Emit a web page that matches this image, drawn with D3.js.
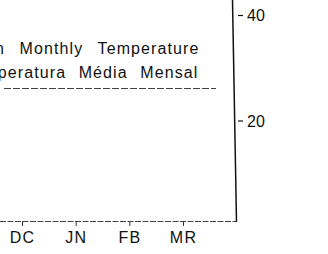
<!DOCTYPE html>
<html><head><meta charset="utf-8">
<script src="https://cdn.jsdelivr.net/npm/d3@7"></script>
<style>body{margin:0;background:#fff;}svg{display:block;}text{font-family:"Liberation Sans",Arial,sans-serif;fill:#111;}</style>
</head><body>
<script>
const months = ["DC","JN","FB","MR"];
const yTicks = [20, 40];
const titleEn = "Mean Monthly Temperature";
const titlePt = "Temperatura Média Mensal";

const W = 328, H = 254;
const svg = d3.select("body").append("svg").attr("width", W).attr("height", H);

const x = d3.scalePoint().domain(months).range([22, 183]);
const y = d3.scaleLinear().domain([0, 40]).range([226, 15]);
const axisX = 236, baseY = 221;

// right y axis
const gy = svg.append("g").attr("transform", `translate(${axisX},0)`)
  .call(d3.axisRight(y).tickValues(yTicks).tickSize(7).tickPadding(4));
gy.select(".domain").remove();
gy.selectAll(".tick line").attr("x1", 2).attr("stroke", "#111").attr("stroke-width", 1.2);
gy.selectAll(".tick text").attr("font-size", 16).attr("dy", "0.36em");
svg.append("line").attr("x1", 232.5).attr("y1", 0).attr("x2", 236.5).attr("y2", baseY + 1)
  .attr("stroke", "#111").attr("stroke-width", 1.5);

// bottom x axis
const gx = svg.append("g").attr("transform", `translate(0,${baseY})`)
  .call(d3.axisBottom(x).tickSize(5).tickPadding(6));
gx.select(".domain").remove();
gx.selectAll(".tick line").attr("stroke", "#333");
gx.selectAll(".tick text").attr("font-size", 16).attr("letter-spacing", 1.2).attr("dy", "0.68em");
svg.append("line").attr("x1", 0).attr("y1", baseY + 0.5).attr("x2", 236).attr("y2", baseY + 0.5)
  .attr("stroke", "#444").attr("stroke-width", 1).attr("stroke-dasharray", "6,1.5");

// legend-like title
svg.append("text").attr("x", 199.5).attr("y", 54).attr("text-anchor", "end")
  .attr("font-size", 16).attr("letter-spacing", 1.1).attr("word-spacing", 9).text(titleEn);
svg.append("text").attr("x", 198.5).attr("y", 78).attr("text-anchor", "end")
  .attr("font-size", 16).attr("letter-spacing", 1.1).attr("word-spacing", 7).text(titlePt);
svg.append("line").attr("x1", 4).attr("y1", 88.5).attr("x2", 216).attr("y2", 88.5)
  .attr("stroke", "#444").attr("stroke-width", 1).attr("stroke-dasharray", "7,2");
</script>
</body></html>
